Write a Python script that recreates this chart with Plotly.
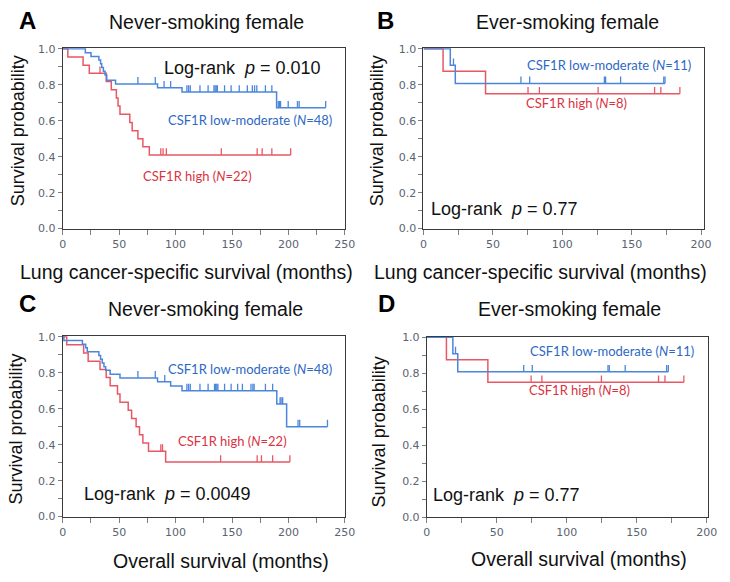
import plotly.graph_objects as go

W, H = 730, 582

# ---------------- data (months, survival probability) ----------------
# Panel A: lung cancer-specific survival, never-smoking female
a_low_t = [20, 25, 32, 33.5, 34.5, 36, 37.5, 39, 46.8, 84, 105.7, 189.5]
a_low_s = [0.979, 0.958, 0.938, 0.917, 0.896, 0.875, 0.854, 0.826, 0.805, 0.783, 0.76, 0.672]
a_low_end = 233
a_low_cens = [66.6, 82, 89.8, 95.6, 110, 111.5, 113, 121.6, 128.8, 134, 135, 136, 137,
              143.4, 149.2, 156.4, 163.6, 168, 170, 172, 179.6, 185.3, 191, 192, 193,
              199.8, 208, 209.5, 233]
a_high_t = [4.5, 18, 23.5, 38.5, 43, 47.5, 49, 50.7, 59.4, 61.5, 66.6, 71, 76.7]
a_high_s = [0.955, 0.909, 0.864, 0.818, 0.773, 0.727, 0.682, 0.636, 0.591, 0.545, 0.5, 0.455, 0.409]
a_high_end = 202
a_high_cens = [33, 86.9, 88.9, 91.8, 140.5, 172.3, 176.7, 185.3, 202]

# Panel B: lung cancer-specific survival, ever-smoking female
b_low_t = [19.3, 22.9]
b_low_s = [0.909, 0.808]
b_low_end = 174
b_low_cens = [21.6, 70.2, 76.5, 130.3, 131.2, 142, 173.1, 174]
b_high_t = [14.1, 44.7]
b_high_s = [0.875, 0.75]
b_high_end = 184.7
b_high_cens = [75.3, 83.5, 125.8, 166.5, 171, 184.7]

# Panel C: overall survival, never-smoking female
c_low_t = [1, 17.4, 20.3, 21.7, 32, 33.5, 35, 36.5, 38, 42, 50.7, 84, 95.6, 105.7, 189.7, 198.4]
c_low_s = [0.979, 0.958, 0.938, 0.917, 0.896, 0.875, 0.854, 0.833, 0.813, 0.792, 0.771,
           0.749, 0.726, 0.70, 0.626, 0.50]
c_low_end = 234.6
c_low_cens = [66.6, 82, 90.4, 110, 111.5, 113, 121.6, 128.8, 134.5, 135.5, 136.5, 137.5,
              143.4, 149.2, 155, 159.2, 166.8, 168.5, 169.6, 179.6, 186, 192.6, 193.5,
              194.9, 208.5, 210, 234.6]
c_high_t = [3.5, 18.5, 22.5, 33, 38.5, 42, 48.5, 50.7, 58, 61, 65, 68, 71, 76, 91.2]
c_high_s = [0.955, 0.909, 0.864, 0.818, 0.773, 0.727, 0.682, 0.636, 0.591, 0.545, 0.5,
            0.455, 0.409, 0.364, 0.303]
c_high_end = 201.3
c_high_cens = [86.9, 88.4, 139.9, 172.3, 176.1, 186, 201.3]

# Panel D: overall survival, ever-smoking female
d_low_t = [18.6, 22.1]
d_low_s = [0.909, 0.808]
d_low_end = 172.5
d_low_cens = [20.5, 69.2, 75.3, 129.4, 130.3, 141.7, 171.3, 172.5]
d_high_t = [14, 43.6]
d_high_s = [0.875, 0.75]
d_high_end = 183.6
d_high_cens = [74.5, 82.2, 124.7, 165.5, 170.1, 183.6]

panel_letters = ["A", "B", "C", "D"]
panel_titles = ["Never-smoking female", "Ever-smoking female",
                "Never-smoking female", "Ever-smoking female"]
x_titles = ["Lung cancer-specific survival (months)", "Lung cancer-specific survival (months)",
            "Overall survival (months)", "Overall survival (months)"]
pvals = ["0.010", "0.77", "0.0049", "0.77"]
n_low = [48, 11, 48, 11]
n_high = [22, 8, 22, 8]

# ---------------- styling ----------------
BLUE_LINE = "#4a86dc"
RED_LINE = "#e85864"
BLUE_TXT = "#2d68c4"
RED_TXT = "#d9333f"
TICK_H = 0.038

fig = go.Figure()

# axis domains in pixels: (left, right, top, bottom)
boxes = [(60, 348, 43.3, 227.7), (428.3, 715, 43.3, 227.7),
         (60, 348, 337.7, 522.3), (431.7, 719, 338.3, 522.7)]
xmax = [250, 202.3, 250, 201]
xtick_max = [250, 200, 250, 200]


def px(x):
    return x / W


def py(y):
    return 1 - y / H


def level_at(ts, ss, c):
    lv = 1.0
    for t, s in zip(ts, ss):
        if t <= c:
            lv = s
    return lv


def add_curve(idx, ts, ss, end, cens, color):
    ax = "" if idx == 0 else str(idx + 1)
    xs = [0] + list(ts) + [end]
    ys = [1.0] + list(ss) + [ss[-1]]
    fig.add_trace(go.Scatter(x=xs, y=ys, mode="lines", line=dict(color=color, width=1.5, shape="hv"),
                             xaxis="x" + ax, yaxis="y" + ax, showlegend=False, hoverinfo="skip"))
    tx, ty = [], []
    for c in cens:
        lv = level_at(ts, ss, c)
        tx += [c, c, None]
        ty += [lv, lv + TICK_H, None]
    fig.add_trace(go.Scatter(x=tx, y=ty, mode="lines", line=dict(color=color, width=1.3),
                             xaxis="x" + ax, yaxis="y" + ax, showlegend=False, hoverinfo="skip"))


data = [
    (a_low_t, a_low_s, a_low_end, a_low_cens, a_high_t, a_high_s, a_high_end, a_high_cens),
    (b_low_t, b_low_s, b_low_end, b_low_cens, b_high_t, b_high_s, b_high_end, b_high_cens),
    (c_low_t, c_low_s, c_low_end, c_low_cens, c_high_t, c_high_s, c_high_end, c_high_cens),
    (d_low_t, d_low_s, d_low_end, d_low_cens, d_high_t, d_high_s, d_high_end, d_high_cens),
]

for i, d in enumerate(data):
    add_curve(i, d[4], d[5], d[6], d[7], RED_LINE)
    add_curve(i, d[0], d[1], d[2], d[3], BLUE_LINE)

layout = dict(width=W, height=H, autosize=False, margin=dict(l=0, r=0, t=0, b=0),
              paper_bgcolor="white", plot_bgcolor="white", showlegend=False)

for i, (l, r, t, b) in enumerate(boxes):
    ax = "" if i == 0 else str(i + 1)
    layout["xaxis" + ax] = dict(
        domain=[px(l), px(r)], range=[0, xmax[i]], anchor="y" + ax,
        tickvals=list(range(0, xtick_max[i] + 1, 50)), ticks="outside", ticklen=5,
        tickcolor="#808080", showline=True, mirror=True, linecolor="#3a3a3a", linewidth=1,
        showgrid=False, zeroline=False,
        tickfont=dict(family="DejaVu Sans", size=11, color="#5a6470"),
        minor=dict(dtick=25, tick0=0, ticks="outside", ticklen=5, tickcolor="#808080", showgrid=False),
    )
    layout["yaxis" + ax] = dict(
        domain=[py(b), py(t)], range=[0, 1.003], anchor="x" + ax,
        tickvals=[0, 0.2, 0.4, 0.6, 0.8, 1.0], tickformat=".1f", ticks="outside", ticklen=4,
        tickcolor="#808080", showline=True, mirror=True, linecolor="#3a3a3a", linewidth=1,
        showgrid=False, zeroline=False,
        tickfont=dict(family="DejaVu Sans", size=11, color="#5a6470"),
        minor=dict(dtick=0.1, tick0=0, ticks="outside", ticklen=4, tickcolor="#808080", showgrid=False),
    )

fig.update_layout(**layout)

ann = []
SANS = "Liberation Sans, Arial, sans-serif"
LEG = "Lato, sans-serif"

letter_pos = [(24.5, 15), (389, 15), (24.5, 304), (391, 304)]
title_pos = [(207, 16), (575, 16), (206, 310), (577, 310)]
xtitle_pos = [(186, 272), (548, 272), (222, 568), (587, 566)]
ytitle_pos = [(14.5, 128), (381, 128), (12.5, 433), (383, 436)]
logrank_pos = [(244, 63), (511, 208), (167, 499), (513, 500)]
low_pos = [(251, 117), (617.5, 60), (251, 371), (621, 352.5)]
high_pos = [(198, 174), (585, 99), (233, 445), (588, 392.5)]

for i in range(4):
    ann.append(dict(x=px(letter_pos[i][0]), y=py(letter_pos[i][1]), xref="paper", yref="paper",
                    text="<b>" + panel_letters[i] + "</b>", showarrow=False,
                    font=dict(family=SANS, size=24, color="black"), xanchor="center", yanchor="middle"))
    ann.append(dict(x=px(title_pos[i][0]), y=py(title_pos[i][1]), xref="paper", yref="paper",
                    text=panel_titles[i], showarrow=False,
                    font=dict(family=SANS, size=19.5, color="#111111"), xanchor="center", yanchor="middle"))
    ann.append(dict(x=px(xtitle_pos[i][0]), y=py(xtitle_pos[i][1]), xref="paper", yref="paper",
                    text=x_titles[i], showarrow=False,
                    font=dict(family=SANS, size=19.5, color="#111111"), xanchor="center", yanchor="middle"))
    ann.append(dict(x=px(ytitle_pos[i][0]), y=py(ytitle_pos[i][1]), xref="paper", yref="paper",
                    text="Survival probability", showarrow=False, textangle=-90,
                    font=dict(family=SANS, size=18, color="#111111"), xanchor="center", yanchor="middle"))
    ann.append(dict(x=px(logrank_pos[i][0]), y=py(logrank_pos[i][1]), xref="paper", yref="paper",
                    text="Log-rank  <i>p</i> = " + pvals[i], showarrow=False,
                    font=dict(family=SANS, size=18, color="#111111"), xanchor="center", yanchor="middle"))
    ann.append(dict(x=px(low_pos[i][0]), y=py(low_pos[i][1]), xref="paper", yref="paper",
                    text="CSF1R low-moderate (<i>N</i>=%d)" % n_low[i], showarrow=False,
                    font=dict(family=LEG, size=13, color=BLUE_TXT), xanchor="center", yanchor="middle"))
    ann.append(dict(x=px(high_pos[i][0]), y=py(high_pos[i][1]), xref="paper", yref="paper",
                    text="CSF1R high (<i>N</i>=%d)" % n_high[i], showarrow=False,
                    font=dict(family=LEG, size=13, color=RED_TXT), xanchor="center", yanchor="middle"))

fig.update_layout(annotations=ann)
fig.write_html("out.html", config={"displayModeBar": False},
               post_script="document.body.style.margin='0px';")
